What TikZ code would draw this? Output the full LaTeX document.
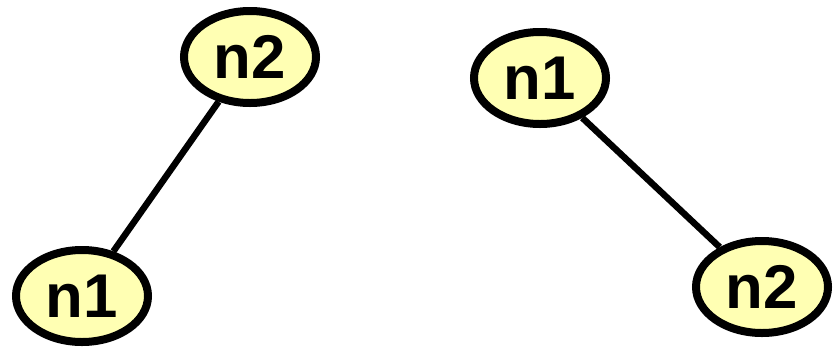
\documentclass[tikz,border=0pt]{standalone}
\usepackage{fontspec}
\setmainfont{Liberation Sans}
\usetikzlibrary{shapes.geometric}
\definecolor{nodefill}{HTML}{FFFFB3}
\tikzset{
  vertex/.style={ellipse, draw=black, line width=8bp, fill=nodefill,
    minimum width=132bp, minimum height=92bp, inner sep=0pt,
    font=\fontsize{62}{64}\selectfont\bfseries},
  edge/.style={draw=black, line width=6.5bp}
}
\begin{document}
\begin{tikzpicture}[x=1bp,y=-1bp]
  \useasboundingbox (0,0) rectangle (834,352);
  % left tree
  \node[vertex] (la) at (250,57) {n2};
  \node[vertex] (lb) at (82,296) {n1};
  \draw[edge] (la) -- (lb);
  % right tree
  \node[vertex] (ra) at (540,78) {n1};
  \node[vertex] (rb) at (762,287) {n2};
  \draw[edge] (ra) -- (rb);
\end{tikzpicture}
\end{document}
